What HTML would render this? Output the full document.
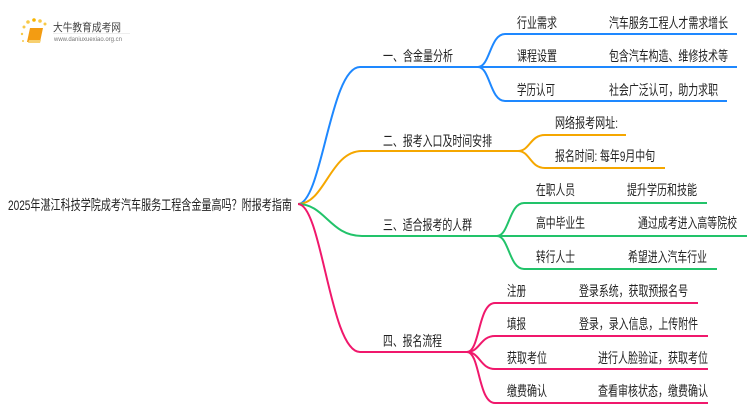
<!DOCTYPE html>
<html><head><meta charset="utf-8"><style>
html,body{margin:0;padding:0;background:#fff;}
svg{display:block;}
text{font-family:"Liberation Sans","Noto Sans CJK SC",sans-serif;font-size:14px;fill:#222;}
</style></head><body>
<svg width="750" height="410" viewBox="0 0 750 410" xmlns="http://www.w3.org/2000/svg">
<g>
<circle cx="24" cy="27" r="1.5" fill="#f7c948"/><circle cx="28" cy="22" r="1.8" fill="#f7c948"/><circle cx="34" cy="20" r="1.8" fill="#f7b500"/><circle cx="40" cy="21" r="1.8" fill="#f7c948"/><circle cx="45" cy="24" r="1.5" fill="#f7c948"/><circle cx="22" cy="34" r="1.2" fill="#f7c948"/><circle cx="23" cy="41" r="1" fill="#f7c948"/>
<path d="M30 28 L43 28 L40 42 L27 42 Z" fill="#f39c12"/><path d="M29 40 L41 40 L40 43 L28 43 Z" fill="#f7d070"/>
<text x="53" y="31" style="font-size:11px;fill:#444" textLength="68" lengthAdjust="spacingAndGlyphs">大牛教育成考网</text>
<text x="54" y="41" style="font-size:6px;fill:#777" textLength="68" lengthAdjust="spacingAndGlyphs">www.daniuxuexiao.org.cn</text>
<line x1="53" y1="33.5" x2="130" y2="33.5" stroke="#ddd" stroke-width="0.6"/>
</g>
<g fill="none" stroke-width="2">
<path d="M298 204 C322 204 330 67 360 67 L478 67" stroke="#1e88ff"/>
<path d="M478 67 C490 67 490 34 505 34 L737 34" stroke="#1e88ff"/>
<path d="M478 67 L737 67" stroke="#1e88ff"/>
<path d="M478 67 C490 67 490 101 505 101 L727 101" stroke="#1e88ff"/>
<path d="M298 204 C325 204 330 151 362 151 L518 151" stroke="#f5a700"/>
<path d="M518 151 C530 151 530 135 545 135 L626 135" stroke="#f5a700"/>
<path d="M518 151 C530 151 530 168 545 168 L665 168" stroke="#f5a700"/>
<path d="M298 204 C325 204 330 236 362 236 L497 236" stroke="#22c36a"/>
<path d="M497 236 C509 236 509 203 524 203 L707 203" stroke="#22c36a"/>
<path d="M497 236 L747 236" stroke="#22c36a"/>
<path d="M497 236 C509 236 509 269 524 269 L717 269" stroke="#22c36a"/>
<path d="M298 204 C322 204 330 352 360 352 L467 352" stroke="#f0186c"/>
<path d="M467 352 C480 352 478 303 495 303 L698 303" stroke="#f0186c"/>
<path d="M467 352 C480 352 480 336 495 336 L708 336" stroke="#f0186c"/>
<path d="M467 352 C480 352 480 369 495 369 L708 369" stroke="#f0186c"/>
<path d="M467 352 C480 352 478 403 495 403 L708 403" stroke="#f0186c"/>
</g>
<g>
<text x="8" y="210" textLength="284" lengthAdjust="spacingAndGlyphs">2025年湛江科技学院成考汽车服务工程含金量高吗？附报考指南</text>
<text x="383" y="61" textLength="70" lengthAdjust="spacingAndGlyphs">一、含金量分析</text>
<text x="383" y="146" textLength="109" lengthAdjust="spacingAndGlyphs">二、报考入口及时间安排</text>
<text x="383" y="230" textLength="89" lengthAdjust="spacingAndGlyphs">三、适合报考的人群</text>
<text x="383" y="346" textLength="59" lengthAdjust="spacingAndGlyphs">四、报名流程</text>

<text x="517" y="28" textLength="40" lengthAdjust="spacingAndGlyphs">行业需求</text>
<text x="609" y="28" textLength="119" lengthAdjust="spacingAndGlyphs">汽车服务工程人才需求增长</text>
<text x="517" y="61" textLength="40" lengthAdjust="spacingAndGlyphs">课程设置</text>
<text x="609" y="61" textLength="119" lengthAdjust="spacingAndGlyphs">包含汽车构造、维修技术等</text>
<text x="517" y="95" textLength="38" lengthAdjust="spacingAndGlyphs">学历认可</text>
<text x="609" y="95" textLength="109" lengthAdjust="spacingAndGlyphs">社会广泛认可，助力求职</text>

<text x="555" y="128" textLength="63" lengthAdjust="spacingAndGlyphs">网络报考网址:</text>
<text x="555" y="161" textLength="100" lengthAdjust="spacingAndGlyphs">报名时间: 每年9月中旬</text>

<text x="536" y="195" textLength="39" lengthAdjust="spacingAndGlyphs">在职人员</text>
<text x="627" y="195" textLength="70" lengthAdjust="spacingAndGlyphs">提升学历和技能</text>
<text x="536" y="228" textLength="49" lengthAdjust="spacingAndGlyphs">高中毕业生</text>
<text x="638" y="228" textLength="99" lengthAdjust="spacingAndGlyphs">通过成考进入高等院校</text>
<text x="536" y="262" textLength="39" lengthAdjust="spacingAndGlyphs">转行人士</text>
<text x="628" y="262" textLength="79" lengthAdjust="spacingAndGlyphs">希望进入汽车行业</text>

<text x="507" y="296" textLength="19" lengthAdjust="spacingAndGlyphs">注册</text>
<text x="579" y="296" textLength="109" lengthAdjust="spacingAndGlyphs">登录系统，获取预报名号</text>
<text x="507" y="329" textLength="19" lengthAdjust="spacingAndGlyphs">填报</text>
<text x="579" y="329" textLength="119" lengthAdjust="spacingAndGlyphs">登录，录入信息，上传附件</text>
<text x="507" y="363" textLength="40" lengthAdjust="spacingAndGlyphs">获取考位</text>
<text x="598" y="363" textLength="110" lengthAdjust="spacingAndGlyphs">进行人脸验证，获取考位</text>
<text x="507" y="396" textLength="40" lengthAdjust="spacingAndGlyphs">缴费确认</text>
<text x="598" y="396" textLength="110" lengthAdjust="spacingAndGlyphs">查看审核状态，缴费确认</text>
</g>
</svg>
</body></html>
